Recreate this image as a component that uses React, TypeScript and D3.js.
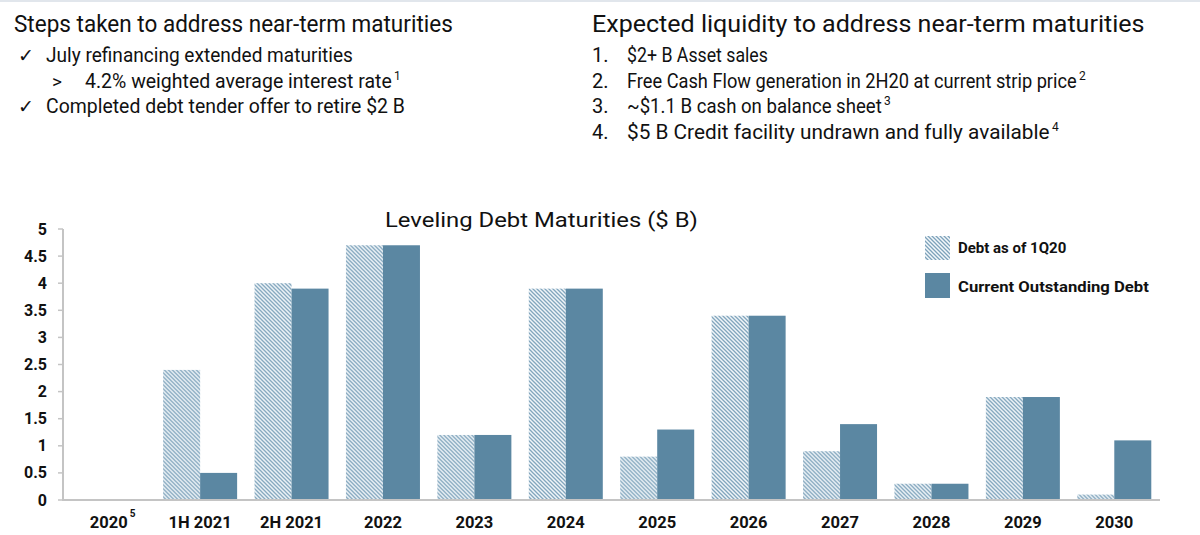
import React, { useLayoutEffect, useRef, useState } from "react";
import * as d3 from "d3";

const categories = ["2020", "1H 2021", "2H 2021", "2022", "2023", "2024", "2025", "2026", "2027", "2028", "2029", "2030"];
const debt1Q20 = [0, 2.4, 4.0, 4.7, 1.2, 3.9, 0.8, 3.4, 0.9, 0.3, 1.9, 0.1];
const currentDebt = [0, 0.5, 3.9, 4.7, 1.2, 3.9, 1.3, 3.4, 1.4, 0.3, 1.9, 1.1];
const yTicks = [0, 0.5, 1, 1.5, 2, 2.5, 3, 3.5, 4, 4.5, 5];
const seriesNames = ["Debt as of 1Q20", "Current Outstanding Debt"];

const leftHeading = "Steps taken to address near-term maturities";
const rightHeading = "Expected liquidity to address near-term maturities";
const chartTitle = "Leveling Debt Maturities ($ B)";

const FONT = "Roboto, 'Liberation Sans', Arial, sans-serif";
const SOLID = "#5b87a2";
const AXIS = "#c4c4c4";

function FitText({ x, y, width, size, weight, children, sup, supSize }: any) {
  const ref = useRef<SVGTextElement>(null);
  const [s, setS] = useState(1);
  useLayoutEffect(() => {
    if (ref.current) {
      const w = ref.current.getComputedTextLength();
      if (w > 0) setS(width / w);
    }
  }, [width, children]);
  return (
    <g>
      <text
        ref={ref}
        transform={`translate(${x},${y}) scale(${s},1)`}
        fontFamily={FONT}
        fontSize={size}
        fontWeight={weight || "normal"}
        fill="#111"
      >
        {children}
      </text>
      {sup && (
        <text x={x + width + 2} y={y - 8} fontFamily={FONT} fontSize={supSize || 12} fill="#111">
          {sup}
        </text>
      )}
    </g>
  );
}

export default function App() {
  const x0 = d3.scaleBand<string>().domain(categories).range([63, 1160]).padding(0);
  const groupW = 74;
  const x1 = d3
    .scaleBand<string>()
    .domain(["a", "b"])
    .range([(x0.bandwidth() - groupW) / 2, (x0.bandwidth() + groupW) / 2])
    .padding(0);
  const y = d3.scaleLinear().domain([0, 5]).range([500, 229]);

  const T = (props: any) => <text fontFamily={FONT} fill="#111" {...props} />;

  return (
    <div style={{ position: "absolute", left: 0, top: 0 }}>
      <svg width={1200} height={535} style={{ display: "block", background: "#fff" }}>
        <defs>
          <pattern id="hatch" patternUnits="userSpaceOnUse" width={4} height={4}>
            <rect width={4} height={4} fill="#f4f8fb" />
            <path d="M-1,-1 L5,5 M3,-1 L5,1 M-1,3 L1,5" stroke="#7da2ba" strokeWidth={1.3} />
          </pattern>
        </defs>
        <line x1={0} x2={1200} y1={1} y2={1} stroke="#e1e6ec" strokeWidth={2} />

        {/* Left text block */}
        <FitText x={14} y={32} width={439} size={24}>{leftHeading}</FitText>
        <T x={18} y={62} fontSize={19}>✓</T>
        <FitText x={46} y={62} width={307} size={20}>July refinancing extended maturities</FitText>
        <T x={52} y={88} fontSize={19}>&gt;</T>
        <FitText x={85} y={88} width={307} size={20} sup="1">4.2% weighted average interest rate</FitText>
        <T x={18} y={113} fontSize={19}>✓</T>
        <FitText x={46} y={113} width={359} size={20}>Completed debt tender offer to retire $2 B</FitText>

        {/* Right text block */}
        <FitText x={592} y={32} width={553} size={24}>{rightHeading}</FitText>
        <T x={592} y={62} fontSize={20}>1.</T>
        <FitText x={627} y={62} width={141} size={20}>$2+ B Asset sales</FitText>
        <T x={592} y={88} fontSize={20}>2.</T>
        <FitText x={627} y={88} width={450} size={20} sup="2">Free Cash Flow generation in 2H20 at current strip price</FitText>
        <T x={592} y={113} fontSize={20}>3.</T>
        <FitText x={627} y={113} width={255} size={20} sup="3">~$1.1 B cash on balance sheet</FitText>
        <T x={592} y={139} fontSize={20}>4.</T>
        <FitText x={627} y={139} width={423} size={20} sup="4">$5 B Credit facility undrawn and fully available</FitText>

        {/* Chart title */}
        <FitText x={385} y={227} width={313} size={20}>{chartTitle}</FitText>

        {/* Bars */}
        {categories.map((c, i) => (
          <g key={c} transform={`translate(${x0(c)},0)`}>
            {debt1Q20[i] > 0 && (
              <rect x={x1("a")} width={x1.bandwidth()} y={y(debt1Q20[i])} height={y(0) - y(debt1Q20[i])} fill="url(#hatch)" />
            )}
            {currentDebt[i] > 0 && (
              <rect x={x1("b")} width={x1.bandwidth()} y={y(currentDebt[i])} height={y(0) - y(currentDebt[i])} fill={SOLID} />
            )}
          </g>
        ))}

        {/* Axes */}
        <line x1={63} x2={63} y1={y(5)} y2={y(0)} stroke={AXIS} strokeWidth={2} />
        <line x1={62} x2={1160} y1={y(0)} y2={y(0)} stroke={AXIS} strokeWidth={2} />
        {yTicks.map((t) => (
          <g key={t}>
            <line x1={58} x2={63} y1={y(t)} y2={y(t)} stroke={AXIS} strokeWidth={1.5} />
            <T x={47} y={y(t) + 5.5} fontSize={16} fontWeight="bold" textAnchor="end">{String(t)}</T>
          </g>
        ))}
        {categories.map((c, i) => (
          <g key={c}>
            <T x={(x0(c) as number) + x0.bandwidth() / 2} y={528} fontSize={16.5} fontWeight="bold" textAnchor="middle">{c}</T>
            {i === 0 && <T x={(x0(c) as number) + x0.bandwidth() / 2 + 21} y={517} fontSize={10} fontWeight="bold">5</T>}
          </g>
        ))}

        {/* Legend */}
        <rect x={925} y={236} width={25} height={24} fill="url(#hatch)" />
        <T x={958} y={253} fontSize={15} fontWeight="bold">{seriesNames[0]}</T>
        <rect x={925} y={273} width={25} height={25} fill={SOLID} />
        <FitText x={958} y={292} width={191} size={15} weight="bold">{seriesNames[1]}</FitText>
      </svg>
    </div>
  );
}
